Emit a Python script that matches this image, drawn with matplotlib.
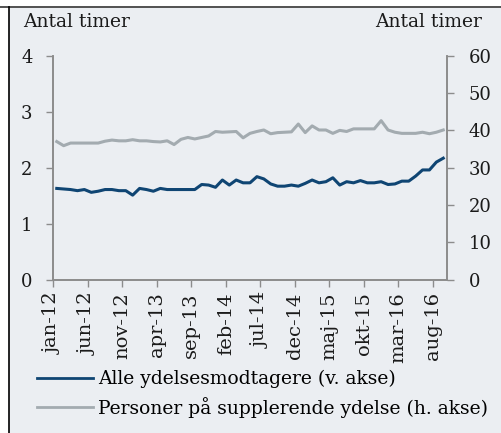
import numpy as np
import matplotlib
matplotlib.use("Agg")
import matplotlib.pyplot as plt
from matplotlib.patches import Rectangle
from matplotlib.lines import Line2D

# monthly data jan-12 .. sep-16
months = ["jan", "feb", "mar", "apr", "maj", "jun", "jul", "aug", "sep", "okt", "nov", "dec"]
labels = [f"{months[i % 12]}-{12 + i // 12}" for i in range(57)]

alle = [1.63, 1.62, 1.61, 1.59, 1.61, 1.56, 1.58, 1.61, 1.61, 1.59,
        1.59, 1.51, 1.63, 1.61, 1.58, 1.63, 1.61, 1.61, 1.61, 1.61,
        1.61, 1.70, 1.69, 1.65, 1.78, 1.69, 1.78, 1.73, 1.73, 1.84,
        1.80, 1.71, 1.67, 1.67, 1.69, 1.67, 1.72, 1.78, 1.73, 1.75,
        1.82, 1.69, 1.75, 1.73, 1.77, 1.73, 1.73, 1.75, 1.70, 1.71,
        1.76, 1.76, 1.85, 1.96, 1.96, 2.10, 2.17]

suppl = [37.0, 35.9, 36.6, 36.6, 36.6, 36.6, 36.6, 37.1, 37.4, 37.2,
         37.2, 37.5, 37.2, 37.2, 37.0, 36.9, 37.2, 36.2, 37.6, 38.1,
         37.7, 38.1, 38.5, 39.7, 39.5, 39.6, 39.7, 38.0, 39.2, 39.7,
         40.1, 39.1, 39.4, 39.5, 39.6, 41.7, 39.4, 41.2, 40.1, 40.1,
         39.2, 40.0, 39.7, 40.4, 40.4, 40.4, 40.4, 42.6, 40.1, 39.5,
         39.2, 39.2, 39.2, 39.5, 39.1, 39.5, 40.1]

bg = "#ebeef2"
blue = "#0f4573"
grey = "#a3abb0"
axcol = "#8c8c8c"
txtcol = "#1a1a1a"
font = "DejaVu Serif"
plt.rcParams['font.family'] = font

fig = plt.figure(figsize=(5.01, 4.33), dpi=100, facecolor="white")
fig.patches.append(Rectangle((9/501, 0), 1, (433-8)/433, transform=fig.transFigure,
                             facecolor=bg, edgecolor="none", zorder=-10))
fig.add_artist(Line2D([0, 1], [1-7/433, 1-7/433], color="#333333", lw=1.2))
fig.add_artist(Line2D([8.5/501, 8.5/501], [0, 1-7/433], color="black", lw=1.2))

ax = fig.add_axes([53.3/501, 1-279.7/433, (446.7-53.3)/501, (279.7-55.7)/433])
ax.set_facecolor("none")
ax2 = ax.twinx()

x = np.arange(len(alle))
ax.plot(x, alle, color=blue, lw=2.2, zorder=3)
ax2.plot(x, suppl, color=grey, lw=2.2, zorder=2)

ax.set_xlim(-0.5, 56.5)
ax.set_ylim(0, 4)
ax2.set_ylim(0, 60)
ax.set_yticks([0, 1, 2, 3, 4])
ax2.set_yticks(range(0, 61, 10))
tick_pos = np.arange(0, 57, 5)
ax.set_xticks(tick_pos - 0.5)
ax.set_xticklabels([labels[i] for i in tick_pos], rotation=90)

for a in (ax, ax2):
    a.spines["top"].set_visible(False)
    for s in ("left", "right", "bottom"):
        a.spines[s].set_color(axcol)
        a.spines[s].set_linewidth(1.2)
    a.tick_params(colors=axcol, labelcolor=txtcol, length=5, width=1, labelsize=13)
ax.tick_params(axis="x", labelsize=14, pad=4)
ax.tick_params(axis="y", pad=10)
ax2.tick_params(axis="y", pad=11)

fig.text(23/501, 1-22/433, "Antal timer", fontsize=13.5, va="center", ha="left", color=txtcol)
fig.text(482/501, 1-22/433, "Antal timer", fontsize=13.5, va="center", ha="right", color=txtcol)

handles = [Line2D([], [], color=blue, lw=2), Line2D([], [], color=grey, lw=2)]
fig.legend(handles, ["Alle ydelsesmodtagere (v. akse)", "Personer på supplerende ydelse (h. akse)"],
           loc="upper left", bbox_to_anchor=(37/501, 1-370/433), frameon=False,
           handlelength=3.0, handletextpad=0.25, labelspacing=0.45,
           borderaxespad=0, borderpad=0, prop={"family": font, "size": 13.5})

fig.savefig("out.png", dpi=100, facecolor="white")
